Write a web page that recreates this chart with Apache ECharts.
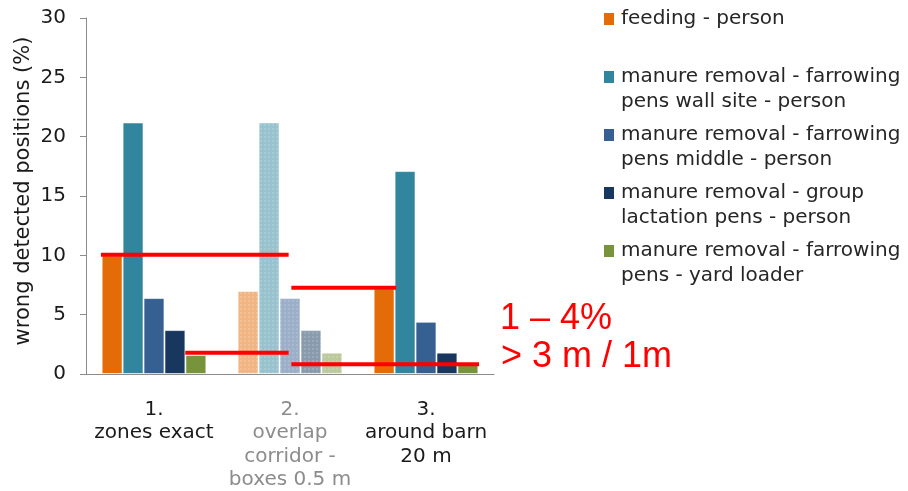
<!DOCTYPE html>
<html>
<head>
<meta charset="utf-8">
<script src="https://cdn.jsdelivr.net/npm/echarts@6/dist/echarts.min.js"></script>
<style>
	html,body{margin:0;padding:0;background:#fff;}
	#main{width:908px;height:491px;}
</style>
</head>
<body>
<div id="main"></div>
<script>
	// categories on the x axis
	var categories = ['1.\nzones exact', '2.\noverlap\ncorridor -\nboxes 0.5 m', '3.\naround barn\n20 m'];
	var seriesNames = [
		'feeding - person',
		'manure removal - farrowing\npens wall site - person',
		'manure removal - farrowing\npens middle - person',
		'manure removal - group\nlactation pens - person',
		'manure removal - farrowing\npens - yard loader'
	];
	var colors = ['#e36c09', '#31859c', '#376092', '#17375e', '#77933c'];
	// values per series (one per category), in %
	var feeding = [10.0, 7.0, 7.2];
	var wallSite = [21.2, 21.2, 17.1];
	var middle = [6.4, 6.4, 4.4];
	var groupPens = [3.7, 3.7, 1.8];
	var yardLoader = [1.6, 1.8, 0.9];
	var values = [feeding, wallSite, middle, groupPens, yardLoader];
	var yTicks = [0, 5, 10, 15, 20, 25, 30];
	// red annotation lines: [xStart, xEnd, y] (x in category units 0..3)
	var redLines = [
		[0.11, 1.49, 10.05],
		[0.73, 1.49, 1.79],
		[1.51, 2.28, 7.27],
		[1.51, 2.89, 0.82]
	];
	var fadedCategory = 1;

	var myChart = echarts.init(document.getElementById('main'));
	var font = 'DejaVu Sans';

	var series = [];
	for (var i = 0; i < seriesNames.length; i++) {
		var d = [];
		for (var j = 0; j < values[i].length; j++) {
			if (j == fadedCategory) {
				d.push({value: values[i][j], itemStyle: {
					opacity: 0.5,
					decal: {symbol: 'rect', symbolSize: 1, color: 'rgba(255,255,255,0.3)', dashArrayX: [[2, 2]], dashArrayY: [2, 2], rotation: 0}
				}});
			} else {
				d.push(values[i][j]);
			}
		}
		series.push({
			name: seriesNames[i],
			type: 'bar',
			barGap: '0%',
			barCategoryGap: '23%',
			itemStyle: {color: colors[i], borderColor: 'rgba(255,255,255,0.6)', borderWidth: 1},
			data: d
		});
	}
	for (var k = 0; k < redLines.length; k++) {
		series.push({
			name: 'red' + k,
			type: 'line',
			xAxisIndex: 1,
			symbol: 'none',
			silent: true,
			z: 10,
			lineStyle: {color: '#ff0000', width: 4},
			data: [[redLines[k][0], redLines[k][2]], [redLines[k][1], redLines[k][2]]]
		});
	}

	var rich = {
		t: {fontFamily: font, fontSize: 20, lineHeight: 25, color: '#262626', padding: [0, 0, 0, 7]},
		s: {width: 10}
	};
	for (var i = 0; i < colors.length; i++) {
		rich['b' + i] = {width: 10, height: 10, backgroundColor: colors[i], padding: [2, 0, 0, 0]};
	}

	var option = {
		animation: false,
		grid: {left: 86, top: 18, width: 408, height: 356, outerBoundsMode: 'none'},
		legend: {
			orient: 'vertical',
			left: 599,
			top: 9,
			padding: 0,
			itemGap: 13,
			itemWidth: 0,
			itemHeight: 10,
			icon: 'none',
			data: seriesNames,
			formatter: function (name) {
				var i = seriesNames.indexOf(name);
				var lines = name.split('\n');
				var s = '{b' + i + '| }{t|' + lines[0] + '}';
				s += '\n{s| }{t|' + (lines[1] ? lines[1] : ' ') + '}';
				return s;
			},
			textStyle: {rich: rich}
		},
		xAxis: [
			{
				type: 'category',
				data: categories.map(function (c, i) {
					return i == fadedCategory ? {value: c, textStyle: {color: '#8c8c8c'}} : c;
				}),
				axisLine: {lineStyle: {color: '#8c8c8c'}},
				axisTick: {length: 6, lineStyle: {color: '#8c8c8c'}},
				axisLabel: {
					interval: 0,
					margin: 24,
					fontFamily: font,
					fontSize: 20,
					lineHeight: 23.5,
					color: '#1a1a1a'
				}
			},
			{type: 'value', min: 0, max: 3, show: false}
		],
		yAxis: {
			type: 'value',
			min: yTicks[0],
			max: yTicks[yTicks.length - 1],
			interval: 5,
			name: 'wrong detected positions (%)',
			nameLocation: 'middle',
			nameGap: 52,
			nameTextStyle: {fontFamily: font, fontSize: 21, color: '#1a1a1a', padding: [0, 0, 0, 10]},
			axisLine: {show: true, lineStyle: {color: '#8c8c8c'}},
			axisTick: {show: true, length: 6, lineStyle: {color: '#8c8c8c'}},
			splitLine: {show: false},
			axisLabel: {margin: 20, fontFamily: font, fontSize: 20, color: '#1a1a1a'}
		},
		graphic: [
			{type: 'text', left: 500, top: 301, style: {text: '1 \u2013 4%', fontFamily: 'Liberation Sans', fontSize: 36, fill: '#ff0000'}},
			{type: 'text', left: 501, top: 339, style: {text: '> 3 m / 1m', fontFamily: 'Liberation Sans', fontSize: 36, fill: '#ff0000'}}
		],
		series: series
	};
	myChart.setOption(option);
</script>
</body>
</html>
